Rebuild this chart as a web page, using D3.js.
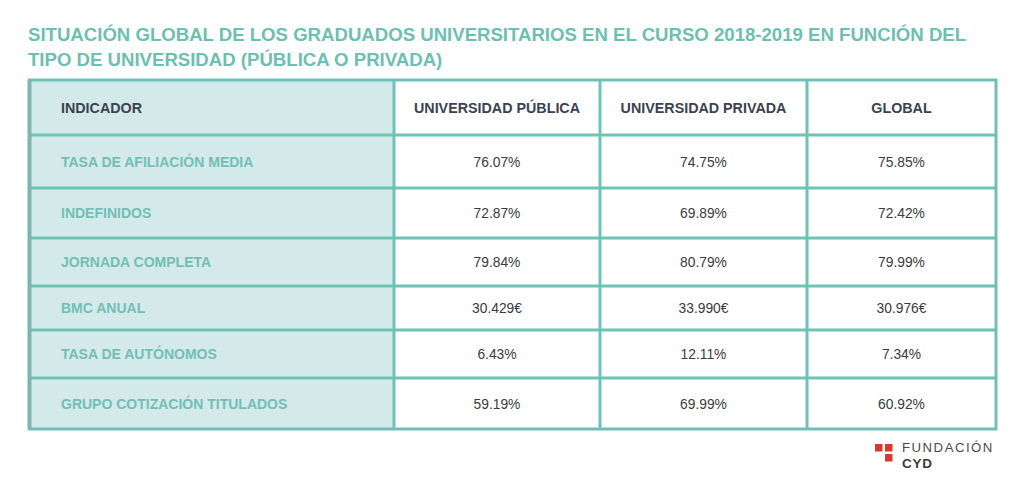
<!DOCTYPE html>
<html>
<head>
<meta charset="utf-8">
<script src="https://cdn.jsdelivr.net/npm/d3@7"></script>
<style>
  html, body { margin: 0; padding: 0; background: #fff; }
  svg { display: block; font-family: "Liberation Sans", Arial, sans-serif; }
</style>
</head>
<body>
<div id="chart"></div>
<script>
// DATA
const titleLines = [
  "SITUACIÓN GLOBAL DE LOS GRADUADOS UNIVERSITARIOS EN EL CURSO 2018-2019 EN FUNCIÓN DEL",
  "TIPO DE UNIVERSIDAD (PÚBLICA O PRIVADA)"
];
const headers = ["INDICADOR", "UNIVERSIDAD PÚBLICA", "UNIVERSIDAD PRIVADA", "GLOBAL"];
const indicators = [
  "TASA DE AFILIACIÓN MEDIA",
  "INDEFINIDOS",
  "JORNADA COMPLETA",
  "BMC ANUAL",
  "TASA DE AUTÓNOMOS",
  "GRUPO COTIZACIÓN TITULADOS"
];
const units = ["%", "%", "%", "€", "%", "%"];
const publica = [76.07, 72.87, 79.84, 30429, 6.43, 59.19];
const privada = [74.75, 69.89, 80.79, 33990, 12.11, 69.99];
const global = [75.85, 72.42, 79.99, 30976, 7.34, 60.92];

const width = 1024;
const height = 488;

const teal = "#6ec4b4";
const tealText = "#72bfb6";
const fillLight = "#d4e9e9";

const svg = d3.select("#chart")
  .append("svg")
  .attr("width", width)
  .attr("height", height);

// FORMATS
const euro = d3.formatLocale({ decimal: ",", thousands: ".", grouping: [3], currency: ["", "€"] })
  .format("$,.0f");
const pct = v => d3.format(".2f")(v) + "%";
const fmt = (v, i) => units[i] === "€" ? euro(v) : pct(v);

// TITLE
svg.selectAll("text.title")
  .data(titleLines)
  .enter()
  .append("text")
  .attr("class", "title")
  .attr("x", 28)
  .attr("y", (d, i) => 41 + i * 25)
  .style("fill", "#6cc0b1")
  .style("font-weight", "bold")
  .style("font-size", "18.6px")
  .text(d => d);

// LAYOUT
const colEdges = [28, 394, 600, 807, 996];
const rowEdges = [135, 188, 238, 286, 330, 378, 429];
const tableTop = 80, headBottom = rowEdges[0], tableBottom = rowEdges[6];

// row index -> top edge, and next edge for the centre
const y = d3.scaleOrdinal()
  .domain(d3.range(rowEdges.length))
  .range(rowEdges);
const rowMid = i => (y(i) + y(i + 1)) / 2;

const columns = [publica, privada, global];

// CELL FILLS
svg.append("rect")
  .attr("x", colEdges[0]).attr("y", tableTop)
  .attr("width", colEdges[1] - colEdges[0])
  .attr("height", tableBottom - tableTop)
  .style("fill", fillLight);

// HEADER TEXT
svg.selectAll("text.head")
  .data(headers)
  .enter()
  .append("text")
  .attr("class", "head")
  .attr("x", (d, i) => i === 0 ? 61 : (colEdges[i] + colEdges[i + 1]) / 2)
  .attr("y", (tableTop + headBottom) / 2 + 5)
  .attr("text-anchor", (d, i) => i === 0 ? "start" : "middle")
  .style("fill", "#3b4250")
  .style("font-weight", "bold")
  .style("font-size", "14.3px")
  .text(d => d);

// INDICATOR LABELS
svg.selectAll("text.label")
  .data(indicators)
  .enter()
  .append("text")
  .attr("class", "label")
  .attr("x", 61)
  .attr("y", (d, i) => rowMid(i) + 5)
  .style("fill", tealText)
  .style("font-weight", "bold")
  .style("font-size", "14px")
  .text(d => d);

// VALUES
columns.forEach((vals, c) => {
  svg.selectAll("text.val" + c)
    .data(vals)
    .enter()
    .append("text")
    .attr("class", "val" + c)
    .attr("x", (colEdges[c + 1] + colEdges[c + 2]) / 2)
    .attr("y", (d, i) => rowMid(i) + 5)
    .attr("text-anchor", "middle")
    .style("fill", "#3a3a40")
    .style("font-size", "13.8px")
    .text((d, i) => fmt(d, i));
});

// GRID LINES
svg.selectAll("line.row")
  .data(d3.range(indicators.length))
  .enter()
  .append("line")
  .attr("x1", colEdges[0]).attr("x2", colEdges[4])
  .attr("y1", d => y(d)).attr("y2", d => y(d))
  .style("stroke", teal)
  .style("stroke-width", 3);

svg.selectAll("line.col")
  .data(colEdges.slice(1, 4))
  .enter()
  .append("line")
  .attr("x1", d => d).attr("x2", d => d)
  .attr("y1", tableTop).attr("y2", tableBottom)
  .style("stroke", teal)
  .style("stroke-width", 3);

// OUTER BORDER
svg.append("rect")
  .attr("x", colEdges[0] + 1.5).attr("y", tableTop)
  .attr("width", colEdges[4] - colEdges[0] - 1.5)
  .attr("height", tableBottom - tableTop)
  .style("fill", "none")
  .style("stroke", "#72bfb8")
  .style("stroke-width", 3);

svg.append("line")
  .attr("x1", colEdges[0] + 1.5).attr("x2", colEdges[0] + 1.5)
  .attr("y1", tableTop).attr("y2", tableBottom)
  .style("stroke", "#7ab6b8")
  .style("stroke-width", 4);

// LOGO
const logo = svg.append("g").attr("transform", "translate(875,444)");
[[0, 0], [10, 0], [10, 10]].forEach(p => {
  logo.append("rect")
    .attr("x", p[0]).attr("y", p[1])
    .attr("width", 7.5).attr("height", 7.5)
    .style("fill", "#d8392e");
});
logo.append("text")
  .attr("x", 27).attr("y", 8)
  .style("fill", "#4a4a4a")
  .style("font-size", "13.2px")
  .style("letter-spacing", "1.5px")
  .text("FUNDACIÓN");
logo.append("text")
  .attr("x", 27).attr("y", 24)
  .style("fill", "#3a3a3a")
  .style("font-weight", "bold")
  .style("font-size", "13.5px")
  .style("letter-spacing", "0.8px")
  .text("CYD");
</script>
</body>
</html>
